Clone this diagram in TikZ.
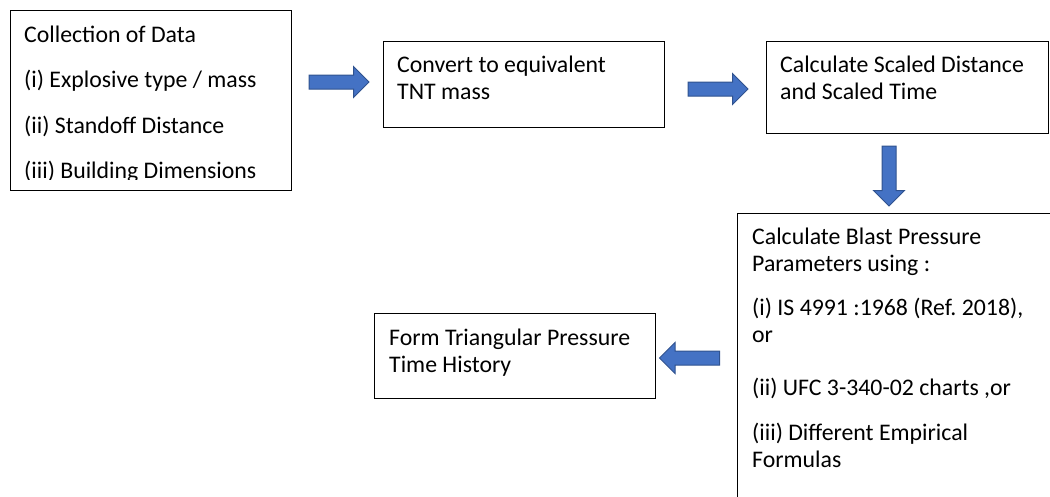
\documentclass[tikz,border=0pt]{standalone}
\usepackage{fontspec}
\setmainfont{Carlito}
\usetikzlibrary{shapes.arrows}

\definecolor{arrowblue}{HTML}{4472C4}
\definecolor{arrowline}{HTML}{2F528F}

\tikzset{
  box/.style={rectangle, draw, color = black, line width = 1pt, anchor = north west, inner sep = 0pt},
  boxtext/.style={anchor = base west, align = left, inner sep = 0pt, text width = #1,
                  font = \fontsize{23.8}{27}\selectfont\frenchspacing,
                  execute at begin node = {\spaceskip=0pt\xspaceskip=0pt\relax}},
  blockarrow/.style={single arrow, draw = arrowline, fill = arrowblue, line width = 1pt,
                     minimum height = 60pt, inner xsep = 0pt, inner ysep = 6.5pt,
                     single arrow head extend = 8.5pt, single arrow tip angle = 90}
}

\begin{document}
\begin{tikzpicture}[x = 1pt, y = -1pt]
        \useasboundingbox (0, 0) rectangle (1050, 496);
        \clip (0, 0) rectangle (1050, 496);

        % boxes
        \node[box, minimum width = 281pt, minimum height = 180pt] (collectBox) at (10, 10) {};
        \node[box, minimum width = 281pt, minimum height = 86pt] (convertBox) at (383, 41) {};
        \node[box, minimum width = 282pt, minimum height = 92pt] (scaledBox) at (766, 41) {};
        \node[box, minimum width = 340pt, minimum height = 320pt] (blastBox) at (737, 213) {};
        \node[box, minimum width = 281pt, minimum height = 85pt] (historyBox) at (374, 313) {};

        % texts
        \begin{scope}
          \clip (collectBox.north west) rectangle (291, 179.5);
          \node[boxtext = 270pt] (collectText) at (24, 42)
            {Collection of Data\\[18.5pt](i) Explosive type / mass\\[18.5pt](ii) Standoff Distance\\[18.5pt](iii) Building Dimensions};
        \end{scope}
        \node[boxtext = 270pt] (convertText) at (397, 72.5) {Convert to equivalent\\TNT mass};
        \node[boxtext = 270pt] (scaledText) at (780, 72.5) {Calculate Scaled Distance\\and Scaled Time};
        \node[boxtext = 300pt] (blastText) at (752, 244)
          {Calculate Blast Pressure\\Parameters using :\\[17pt](i) IS 4991 :1968 (Ref. 2018),\\or\\[26pt](ii) UFC 3-340-02 charts ,or\\[18pt](iii) Different Empirical\\Formulas};
        \node[boxtext = 270pt] (historyText) at (389, 345) {Form Triangular Pressure\\Time History};

        % arrows
        \node[blockarrow] (collectArrow) at (335.5, 82) {};
        \node[blockarrow] (convertArrow) at (714.5, 89) {};
        \node[blockarrow, shape border rotate = 270, inner xsep = 6.5pt, inner ysep = 0pt] (scaledArrow) at (889, 172.5) {};
        \node[blockarrow, shape border rotate = 180] (blastArrow) at (693, 358) {};
      \end{tikzpicture}
\end{document}
